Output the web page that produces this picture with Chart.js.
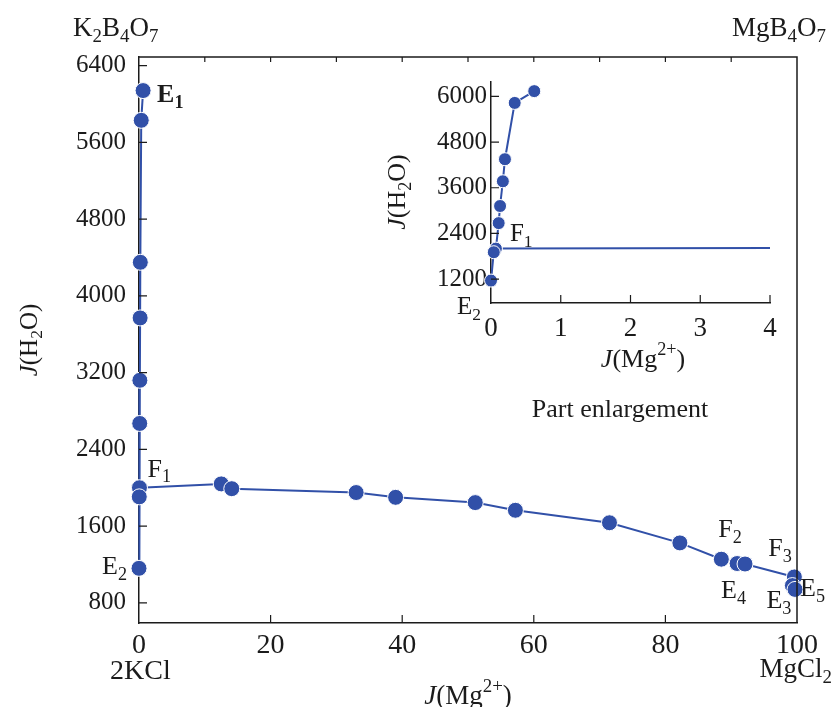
<!DOCTYPE html>
<html>
<head>
<meta charset="utf-8">
<script src="https://cdn.jsdelivr.net/npm/chart.js@4.4.1/dist/chart.umd.min.js"></script>
<style>
html, body { margin: 0; padding: 0; background: #fff; }
#wrap { position: relative; width: 834px; height: 707px; }
#main { position: absolute; left: 0; top: 0; }
#inset { position: absolute; left: 380px; top: 60px; }
</style>
</head>
<body>
<div id="wrap">
  <canvas id="main" width="834" height="707"></canvas>
  <canvas id="inset" width="420" height="330"></canvas>
</div>
<script>
// branch E1 -> F1 -> E2 (K2B4O7 side)
const branchX = [0.62, 0.34, 0.20, 0.17, 0.13, 0.11, 0.07, 0.04, 0];
const branchY = [6140, 5830, 4350, 3770, 3120, 2670, 2000, 1905, 1160];
// branch F1 -> E5
const curveX = [0.07, 12.5, 14.1, 33.0, 39.0, 51.1, 57.2, 71.5, 82.2, 88.5, 90.9, 92.1, 99.6, 99.3, 99.7];
const curveY = [2000, 2040, 1990, 1950, 1900, 1845, 1765, 1635, 1425, 1255, 1210, 1205, 1070, 980, 940];

const xTicks = [0, 20, 40, 60, 80, 100];
const yTicks = [800, 1600, 2400, 3200, 4000, 4800, 5600, 6400];
const insetXTicks = [0, 1, 2, 3, 4];
const insetYTicks = [1200, 2400, 3600, 4800, 6000];

const BLUE = '#3150a8';
const INK = '#1b1b1b';
const FAM = '"Liberation Serif", "Times New Roman", serif';

const pts = (xs, ys) => xs.map((x, i) => ({x: x, y: ys[i]}));

// text with sub/superscripts: parts = [[text, 'n'|'sub'|'sup'|'i'], ...]
function drawRich(ctx, parts, x, y, size, align, weight) {
  weight = weight || 'normal';
  const fontFor = p => {
    const s = (p[1] === 'sub' || p[1] === 'sup') ? size * 0.7 : size;
    return (p[1] === 'i' ? 'italic ' : '') + weight + ' ' + s + 'px ' + FAM;
  };
  let w = 0;
  parts.forEach(p => { ctx.font = fontFor(p); w += ctx.measureText(p[0]).width; });
  let cx = align === 'center' ? x - w / 2 : align === 'right' ? x - w : x;
  ctx.textAlign = 'left';
  ctx.textBaseline = 'middle';
  ctx.fillStyle = INK;
  parts.forEach(p => {
    ctx.font = fontFor(p);
    const dy = p[1] === 'sub' ? size * 0.3 : p[1] === 'sup' ? -size * 0.38 : 0;
    ctx.fillText(p[0], cx, y + dy);
    cx += ctx.measureText(p[0]).width;
  });
}

const sub = t => [t, 'sub'];
const sup = t => [t, 'sup'];
const n = t => [t, 'n'];
const it = t => [t, 'i'];

function inwardTicks(ctx, a, xs, ys, xScale, yScale, len) {
  ctx.beginPath();
  xs.forEach(v => { const p = xScale.getPixelForValue(v); ctx.moveTo(p, a.bottom); ctx.lineTo(p, a.bottom - len); });
  ys.forEach(v => { const p = yScale.getPixelForValue(v); ctx.moveTo(a.left, p); ctx.lineTo(a.left + len, p); });
  ctx.stroke();
}

// point labels: anchored to a data point, offset in px
const mainLabels = [
  {set: 'b', i: 0, parts: [n('E'), sub('1')], dx: 14, dy: 5, align: 'left', bold: true},
  {set: 'b', i: 6, parts: [n('F'), sub('1')], dx: 8, dy: -18, align: 'left'},
  {set: 'b', i: 8, parts: [n('E'), sub('2')], dx: -12, dy: -1, align: 'right'},
  {set: 'c', i: 9, parts: [n('F'), sub('2')], dx: -3, dy: -29, align: 'left'},
  {set: 'c', i: 10, parts: [n('E'), sub('4')], dx: -16, dy: 28, align: 'left'},
  {set: 'c', i: 12, parts: [n('F'), sub('3')], dx: -26, dy: -28, align: 'left'},
  {set: 'c', i: 13, parts: [n('E'), sub('3')], dx: -26, dy: 16, align: 'left'},
  {set: 'c', i: 14, parts: [n('E'), sub('5')], dx: 5, dy: 0, align: 'left'}
];
const insetLabels = [
  {set: 'b', i: 6, parts: [n('F'), sub('1')], dx: 14, dy: -14, align: 'left'},
  {set: 'b', i: 8, parts: [n('E'), sub('2')], dx: -10, dy: 27, align: 'right'}
];

function drawPointLabels(chart, list, size) {
  const {ctx, scales: {x, y}} = chart;
  list.forEach(l => {
    const xs = l.set === 'b' ? branchX : curveX;
    const ys = l.set === 'b' ? branchY : curveY;
    const px = x.getPixelForValue(xs[l.i]);
    const py = y.getPixelForValue(ys[l.i]);
    drawRich(ctx, l.parts, px + l.dx, py + l.dy, size, l.align, l.bold ? 'bold' : 'normal');
  });
}

const mainDecor = {
  id: 'mainDecor',
  afterDraw(chart) {
    const {ctx, chartArea: a, scales: {x, y}} = chart;
    ctx.save();
    ctx.strokeStyle = INK;
    ctx.lineWidth = 1.5;
    ctx.beginPath();
    ctx.moveTo(a.left, a.top); ctx.lineTo(a.right, a.top); ctx.lineTo(a.right, a.bottom);
    ctx.stroke();
    ctx.lineWidth = 1.2;
    inwardTicks(ctx, a, xTicks.slice(1, -1), yTicks, x, y, 8);
    ctx.beginPath();
    for (let v = 10; v < 100; v += 10) {
      const p = x.getPixelForValue(v);
      ctx.moveTo(p, a.top); ctx.lineTo(p, a.top + 5);
    }
    ctx.stroke();

    drawPointLabels(chart, mainLabels, 26);

    drawRich(ctx, [n('K'), sub('2'), n('B'), sub('4'), n('O'), sub('7')], 73, 29, 27, 'left');
    drawRich(ctx, [n('MgB'), sub('4'), n('O'), sub('7')], 826, 29, 27, 'right');
    drawRich(ctx, [n('2KCl')], 110, 672, 28, 'left');
    drawRich(ctx, [n('MgCl'), sub('2')], 832, 670, 27, 'right');
    drawRich(ctx, [it('J'), n('(Mg'), sup('2+'), n(')')], 468, 697, 27, 'center');
    drawRich(ctx, [n('Part enlargement')], 620, 410, 26, 'center');

    ctx.translate(30, 340);
    ctx.rotate(-Math.PI / 2);
    drawRich(ctx, [it('J'), n('(H'), sub('2'), n('O)')], 0, 0, 25, 'center');
    ctx.restore();
  }
};

const insetDecor = {
  id: 'insetDecor',
  afterDraw(chart) {
    const {ctx, chartArea: a, scales: {x, y}} = chart;
    ctx.save();
    ctx.strokeStyle = INK;
    ctx.lineWidth = 1.2;
    inwardTicks(ctx, a, insetXTicks.slice(1), insetYTicks, x, y, 8);
    drawPointLabels(chart, insetLabels, 25);
    drawRich(ctx, [it('J'), n('(Mg'), sup('2+'), n(')')], 263, 300, 26, 'center');
    ctx.translate(18, 132);
    ctx.rotate(-Math.PI / 2);
    drawRich(ctx, [it('J'), n('(H'), sub('2'), n('O)')], 0, 0, 26, 'center');
    ctx.restore();
  }
};

function seriesStyle(radius) {
  return {
    showLine: true,
    borderColor: BLUE,
    borderWidth: 2,
    backgroundColor: BLUE,
    pointBackgroundColor: BLUE,
    pointBorderColor: '#fff',
    pointBorderWidth: 1,
    pointRadius: radius,
    pointHoverRadius: radius
  };
}

function setTicks(list) {
  return s => { s.ticks = list.map(v => ({value: v})); };
}
const plain = v => String(v);

new Chart(document.getElementById('main'), {
  type: 'scatter',
  data: {
    datasets: [
      Object.assign({label: 'E1-E2', data: pts(branchX, branchY), clip: false}, seriesStyle(8)),
      Object.assign({label: 'F1-E5', data: pts(curveX, curveY), clip: false}, seriesStyle(8))
    ]
  },
  options: {
    responsive: false,
    animation: false,
    layout: {padding: {top: 57, right: 37, left: 0, bottom: 0}},
    plugins: {legend: {display: false}, tooltip: {enabled: false}},
    scales: {
      x: {
        type: 'linear', min: 0, max: 100,
        afterBuildTicks: setTicks(xTicks),
        afterFit: s => { s.height = 84; },
        grid: {display: false, drawTicks: false},
        border: {display: true, color: INK, width: 1.5},
        ticks: {color: INK, padding: 6, font: {family: FAM, size: 28}, maxRotation: 0, callback: plain}
      },
      y: {
        type: 'linear', min: 590, max: 6490,
        afterBuildTicks: setTicks(yTicks),
        afterFit: s => { s.width = 139; },
        grid: {display: false, drawTicks: false},
        border: {display: true, color: INK, width: 1.5},
        ticks: {color: INK, padding: 13, font: {family: FAM, size: 25}, callback: plain}
      }
    }
  },
  plugins: [mainDecor]
});

new Chart(document.getElementById('inset'), {
  type: 'scatter',
  data: {
    datasets: [
      Object.assign({label: 'E1-E2', data: pts(branchX, branchY), clip: {left: 12, top: 12, right: 0, bottom: 12}}, seriesStyle(6.5)),
      Object.assign({label: 'F1-E5', data: pts(curveX, curveY), clip: {left: 12, top: 12, right: 0, bottom: 12}}, seriesStyle(6.5))
    ]
  },
  options: {
    responsive: false,
    animation: false,
    layout: {padding: {top: 22, right: 30, left: 0, bottom: 0}},
    plugins: {legend: {display: false}, tooltip: {enabled: false}},
    scales: {
      x: {
        type: 'linear', min: 0, max: 4,
        afterBuildTicks: setTicks(insetXTicks),
        afterFit: s => { s.height = 87; },
        grid: {display: false, drawTicks: false},
        border: {display: true, color: INK, width: 1.5},
        ticks: {color: INK, padding: 10, font: {family: FAM, size: 27}, maxRotation: 0, callback: plain}
      },
      y: {
        type: 'linear', min: 570, max: 6380,
        afterBuildTicks: setTicks(insetYTicks),
        afterFit: s => { s.width = 111; },
        grid: {display: false, drawTicks: false},
        border: {display: true, color: INK, width: 1.5},
        ticks: {color: INK, padding: 4, font: {family: FAM, size: 25}, callback: plain}
      }
    }
  },
  plugins: [insetDecor]
});
</script>
</body>
</html>
